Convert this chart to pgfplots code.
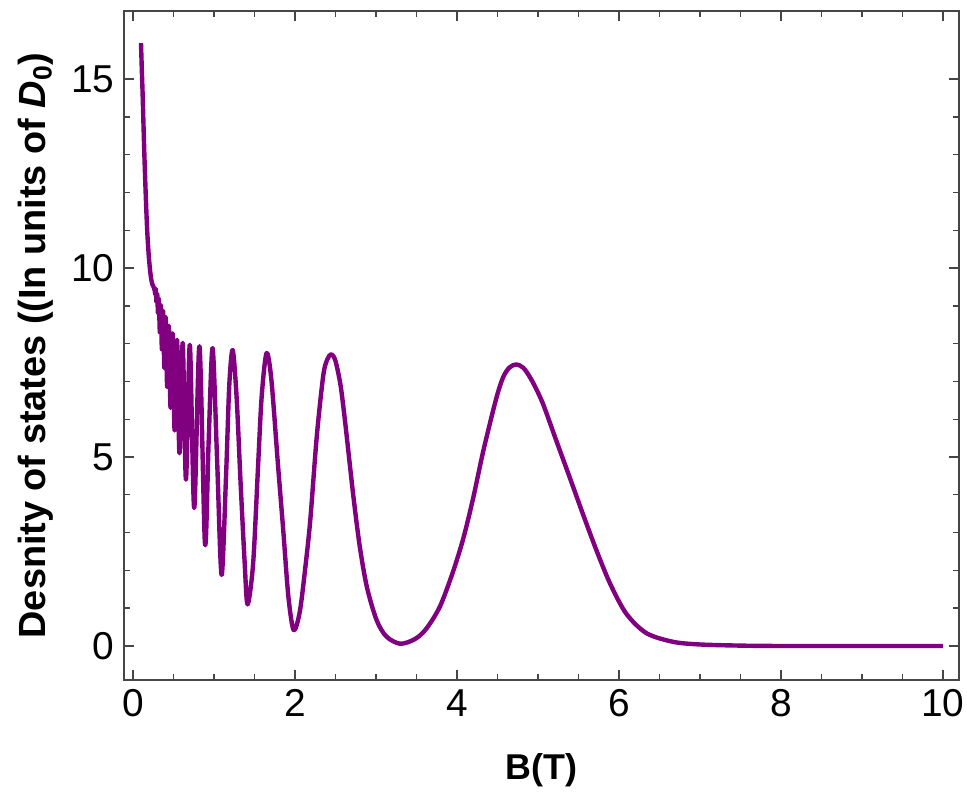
\documentclass[border=0pt]{standalone}
\usepackage{fontspec}
\setmainfont{Liberation Sans}
\usepackage{pgfplots}
\pgfplotsset{compat=1.18}
\definecolor{dospurple}{RGB}{128,0,128}
\definecolor{axisgray}{RGB}{70,70,70}
\begin{document}
\begin{tikzpicture}
\useasboundingbox (-62bp,-57.5bp) rectangle (421.5bp,340bp);
\begin{axis}[scale only axis,width=417.5bp,height=334.5bp,
  xmin=-0.11,xmax=10.2,ymin=-0.9,ymax=16.8,
  xtick={0,2,4,6,8,10},ytick={0,5,10,15},
  minor x tick num=3,minor y tick num=4,
  tick align=inside,major tick length=5bp,minor tick length=3bp,
  axis line style={axisgray,line width=0.8bp},
  tick style={axisgray,line width=0.7bp},
  /pgf/number format/assume math mode=true,
  tick label style={font=\fontsize{19.5}{23}\selectfont,inner sep=4.5bp},
  xlabel={\fontsize{18}{22}\selectfont\bfseries B(T)},
  ylabel={\fontsize{19}{23}\selectfont\bfseries Desnity of states ((In units of \textit{D}\textsubscript{0})},
  xlabel style={at={(axis description cs:0.5,-0.148)},anchor=base},
  ylabel style={at={(axis description cs:-0.0946,0.5)},anchor=base,rotate=0}]
\addplot[dospurple,line width=2.2bp,smooth,tension=0.5,line join=round] coordinates {
(0.100,15.95) (0.110,15.25) (0.120,14.6) (0.130,13.85) (0.140,13.1) (0.150,12.45)
(0.160,11.85) (0.170,11.3) (0.180,10.85) (0.195,10.35) (0.210,9.98) (0.225,9.72)
(0.240,9.57) (0.255,9.5) (0.268,9.42) (0.276,9.3) (0.283,9.45) (0.291,9.1) (0.300,9.32) (0.310,8.8)
(0.320,9.18) (0.333,8.3) (0.345,9.02) (0.358,7.85) (0.373,8.87) (0.388,7.35)
(0.405,8.7) (0.423,6.85) (0.444,8.47) (0.465,6.3) (0.490,8.27) (0.515,5.7)
(0.545,8.1) (0.575,5.1) (0.615,8.02) (0.655,4.4) (0.703,7.97) (0.757,3.65)
(0.822,7.93) (0.890,2.7) (0.935,5.4) (0.984,7.88) (1.040,4.9) (1.095,1.88)
(1.150,4.5) (1.190,6.9) (1.232,7.83) (1.280,6.6) (1.330,4.3) (1.380,2.2)
(1.416,1.1) (1.485,2.2) (1.547,4.83) (1.590,6.6) (1.650,7.75) (1.710,7.04)
(1.790,4.83) (1.856,3.07) (1.920,1.3) (1.985,0.42) (2.060,0.9) (2.130,2.1) (2.190,3.33)
(2.270,5.54) (2.350,7.15) (2.400,7.58) (2.450,7.72) (2.500,7.55) (2.560,6.95) (2.600,6.3)
(2.640,5.55) (2.720,4.0) (2.800,2.65) (2.890,1.55) (3.010,0.68) (3.130,0.25) (3.300,0.06) (3.480,0.18)
(3.620,0.45) (3.790,1.04) (3.950,1.95) (4.080,2.85) (4.200,3.9) (4.320,5.1)
(4.450,6.25) (4.520,6.8) (4.580,7.15) (4.650,7.37) (4.735,7.45) (4.820,7.36) (4.900,7.12)
(4.980,6.8) (5.070,6.37) (5.230,5.42) (5.400,4.42) (5.560,3.47) (5.720,2.55) (5.890,1.66) (6.090,0.86)
(6.340,0.34) (6.670,0.11) (7.000,0.04) (7.500,0.01) (8.000,0.0) (9.000,0.0) (10.000,0.0)};
\end{axis}
\end{tikzpicture}
\end{document}
